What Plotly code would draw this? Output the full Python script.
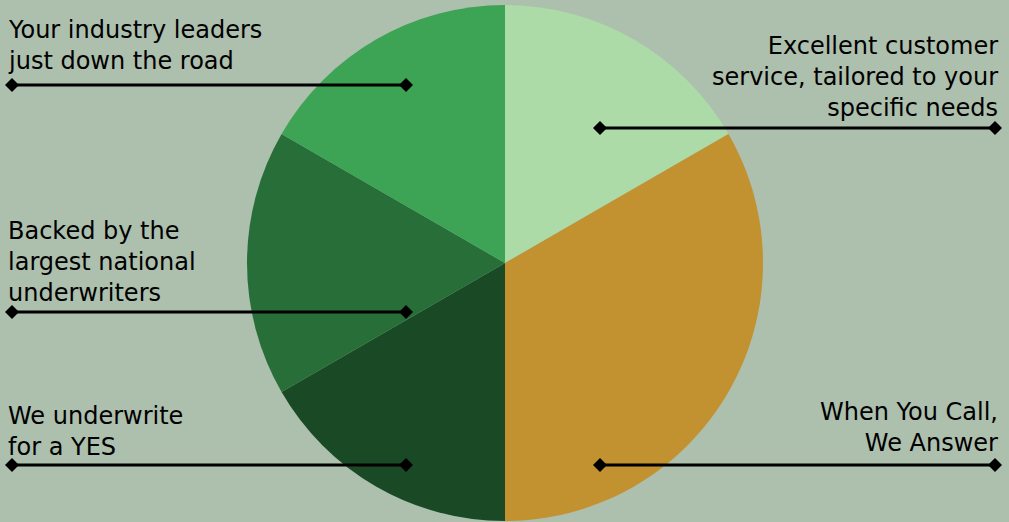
import plotly.graph_objects as go

W, H = 1009, 522

labels = ["Excellent customer service", "When You Call, We Answer", "We underwrite for a YES",
          "Backed by the largest national underwriters", "Your industry leaders just down the road"]
values = [1, 2, 1, 1, 1]
colors = ["#acdba8", "#c29130", "#1a4a25", "#276e38", "#3da355"]

# callout text blocks: (lines, x, anchor, first baseline, last baseline)
callouts = [
    (["Your industry leaders", "just down the road"], 6, "left", 40, 66),
    (["Excellent customer", "service, tailored to your", "specific needs"], 1000, "right", 57, 111),
    (["Backed by the", "largest national", "underwriters"], 6, "left", 242, 296),
    (["We underwrite", "for a YES"], 6, "left", 425, 452),
    (["When You Call,", "We Answer"], 1000, "right", 422, 448),
]
# leader lines: (x0, x1, y)
leaders = [(12, 406, 85), (600, 995, 128), (12, 406, 312), (12, 406, 465), (600, 995, 465)]

BG = "#adbfad"
FONT = "DejaVu Sans"
FS = 24

cx, cy, r = 505, 263, 258

fig = go.Figure()
fig.add_trace(go.Pie(
    labels=labels, values=values, sort=False, direction="clockwise", rotation=0,
    marker=dict(colors=colors, line=dict(width=0)),
    textinfo="none", hoverinfo="label", showlegend=False,
    domain=dict(x=[(cx - r) / W, (cx + r) / W], y=[(H - cy - r) / H, (H - cy + r) / H]),
))

D = 7  # diamond half size
for x0, x1, y in leaders:
    fig.add_shape(type="line", x0=x0, x1=x1, y0=y, y1=y, xref="x", yref="y",
                  line=dict(color="black", width=3), layer="above")
    for xe in (x0, x1):
        fig.add_shape(type="path", xref="x", yref="y", layer="above",
                      path=f"M {xe-D},{y} L {xe},{y-D} L {xe+D},{y} L {xe},{y+D} Z",
                      fillcolor="black", line=dict(width=0))

for lines, x, anchor, b0, b1 in callouts:
    fig.add_annotation(
        x=x, y=(b0 + b1) / 2 - 0.3 * FS, xref="x", yref="y", text="<br>".join(lines),
        showarrow=False, xanchor=anchor, yanchor="middle", align=anchor,
        font=dict(family=FONT, size=FS, color="black"),
    )

fig.update_layout(
    width=W, height=H, margin=dict(l=0, r=0, t=0, b=0),
    paper_bgcolor=BG, plot_bgcolor="rgba(0,0,0,0)",
    xaxis=dict(range=[0, W], visible=False, fixedrange=True),
    yaxis=dict(range=[H, 0], visible=False, fixedrange=True),
)

fig.write_html("out.html", config={"displayModeBar": False},
               post_script="document.body.style.margin='0px';")
